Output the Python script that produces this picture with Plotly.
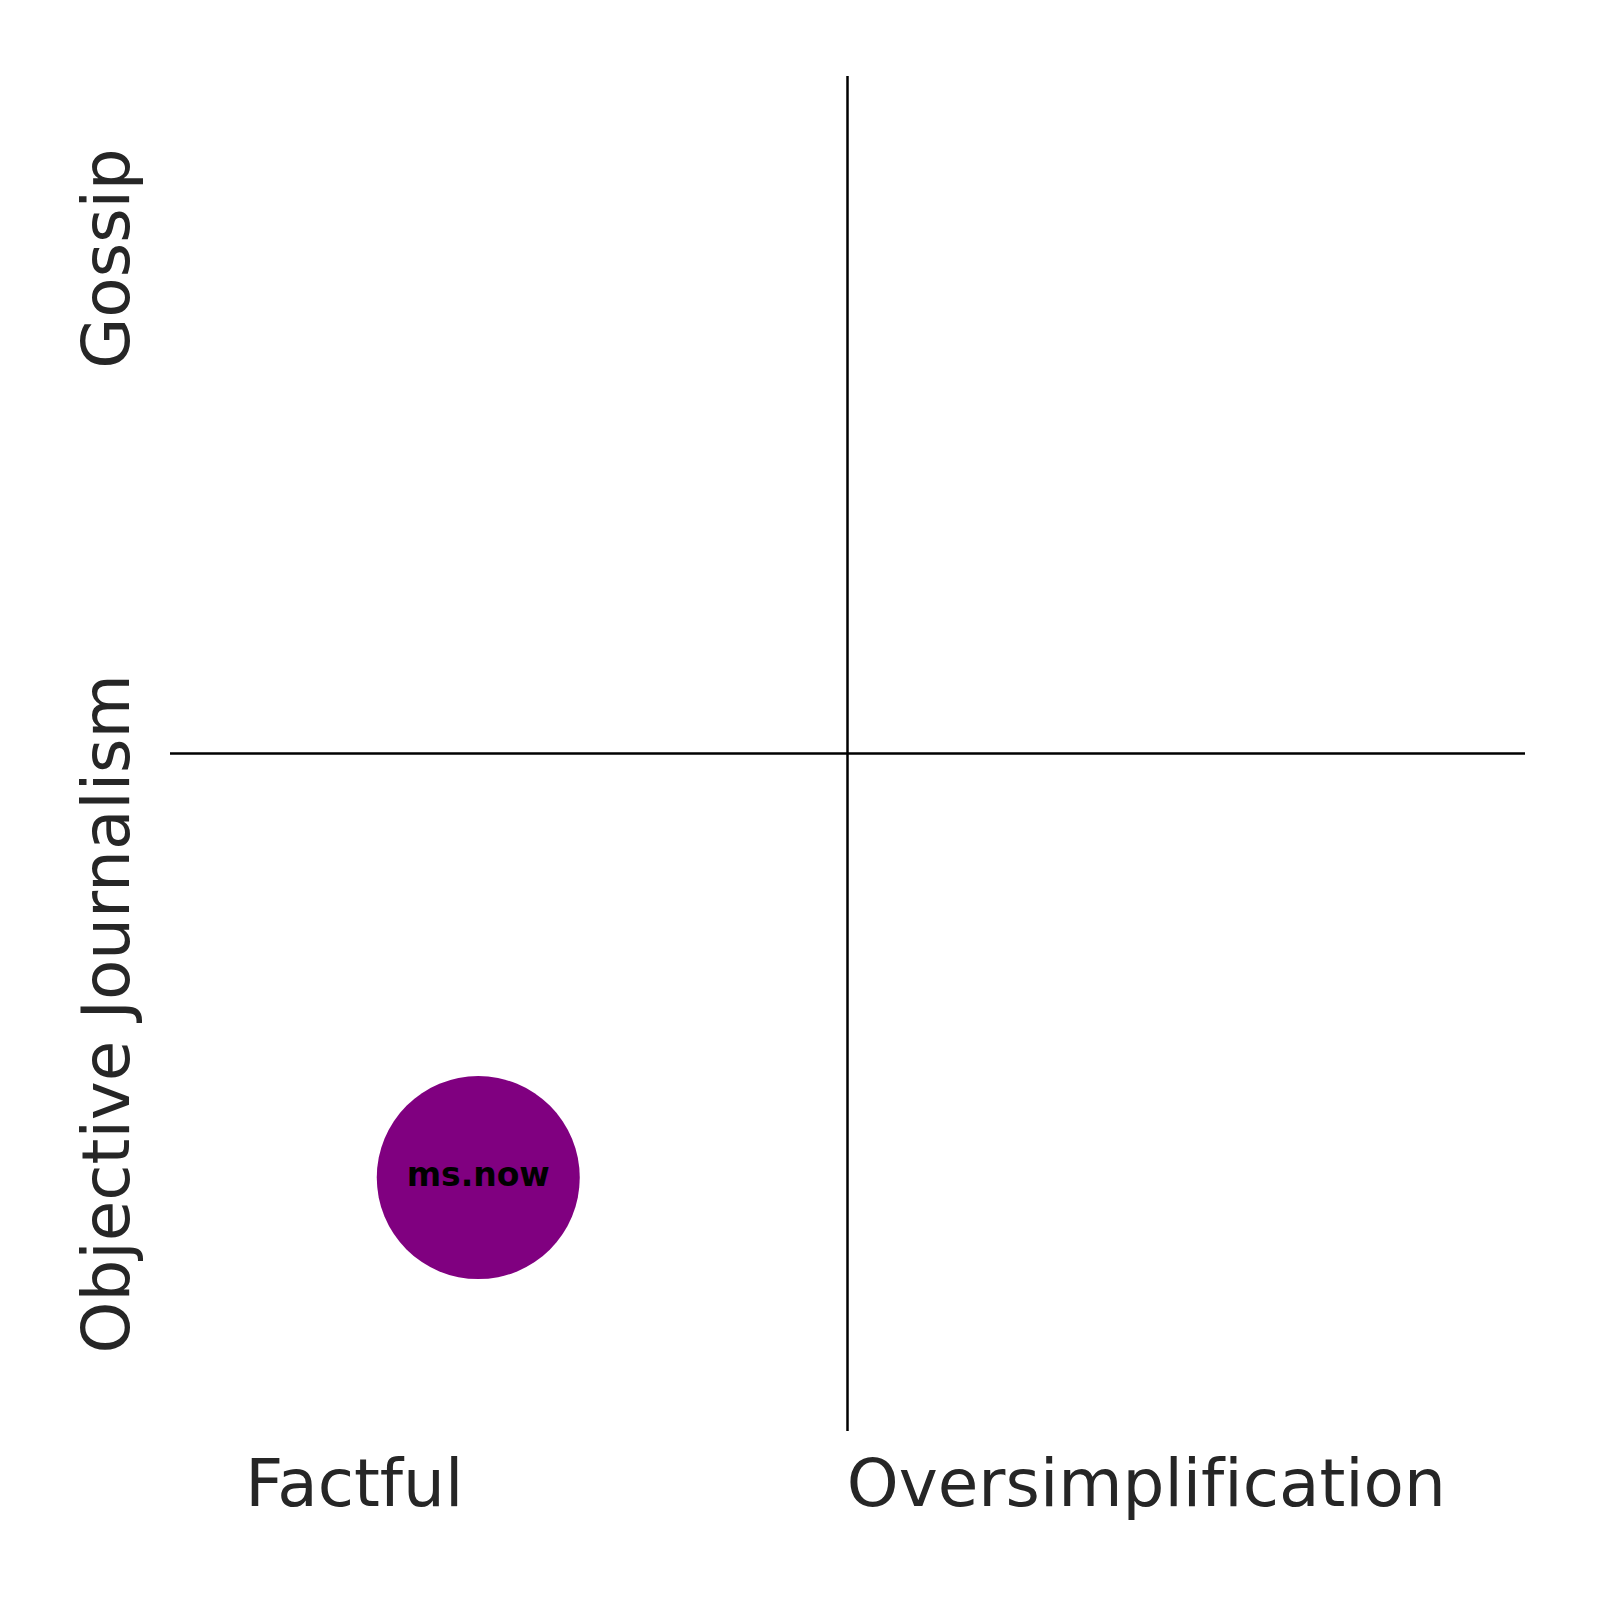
import plotly.graph_objects as go

# outlets placed on the quadrant chart
outlets = ["ms.now"]
factual_scores = [-0.545]    # x: Factful (-) .. Oversimplification (+)
gossip_scores = [-0.626]     # y: Objective Journalism (-) .. Gossip (+)
outlet_colors = ["#800080"]

x_tick_vals = [-0.728, 0.441]
# zero-width non-joiner keeps "f" and "i" apart (no ligature), as in the original
x_tick_text = ["Factful", "Oversimplif\u200cication"]
y_tick_vals = [-0.399, 0.716]
y_tick_text = ["Objective Journalism", "Gossip"]

label_font = dict(family="DejaVu Sans", size=66, color="#262626")

fig = go.Figure()
fig.add_trace(go.Scatter(
    x=factual_scores, y=gossip_scores,
    mode="markers+text",
    text=outlets,
    textposition="middle center",
    textfont=dict(family="DejaVu Sans", size=33, color="black", weight="bold"),
    marker=dict(size=203, color=outlet_colors, line=dict(width=0)),
    showlegend=False,
))

# quadrant dividers
fig.add_shape(type="line", xref="x", yref="paper", x0=0, x1=0, y0=0, y1=1,
              line=dict(color="black", width=2.5))
fig.add_shape(type="line", xref="paper", yref="y", x0=0, x1=1, y0=0, y1=0,
              line=dict(color="black", width=2.5))

fig.update_xaxes(range=[-1, 1], showgrid=False, zeroline=False, showline=False,
                 tickvals=x_tick_vals, ticktext=x_tick_text, ticks="",
                 tickfont=label_font, ticklabelstandoff=8)
fig.update_yaxes(range=[-1, 1], showgrid=False, zeroline=False, showline=False,
                 tickvals=y_tick_vals, ticktext=y_tick_text, ticks="",
                 tickangle=-90, tickfont=label_font, ticklabelstandoff=27)

fig.update_layout(
    width=1600, height=1600,
    margin=dict(l=162, r=83, t=68, b=177),
    plot_bgcolor="white", paper_bgcolor="white",
)

fig.write_html("out.html")
